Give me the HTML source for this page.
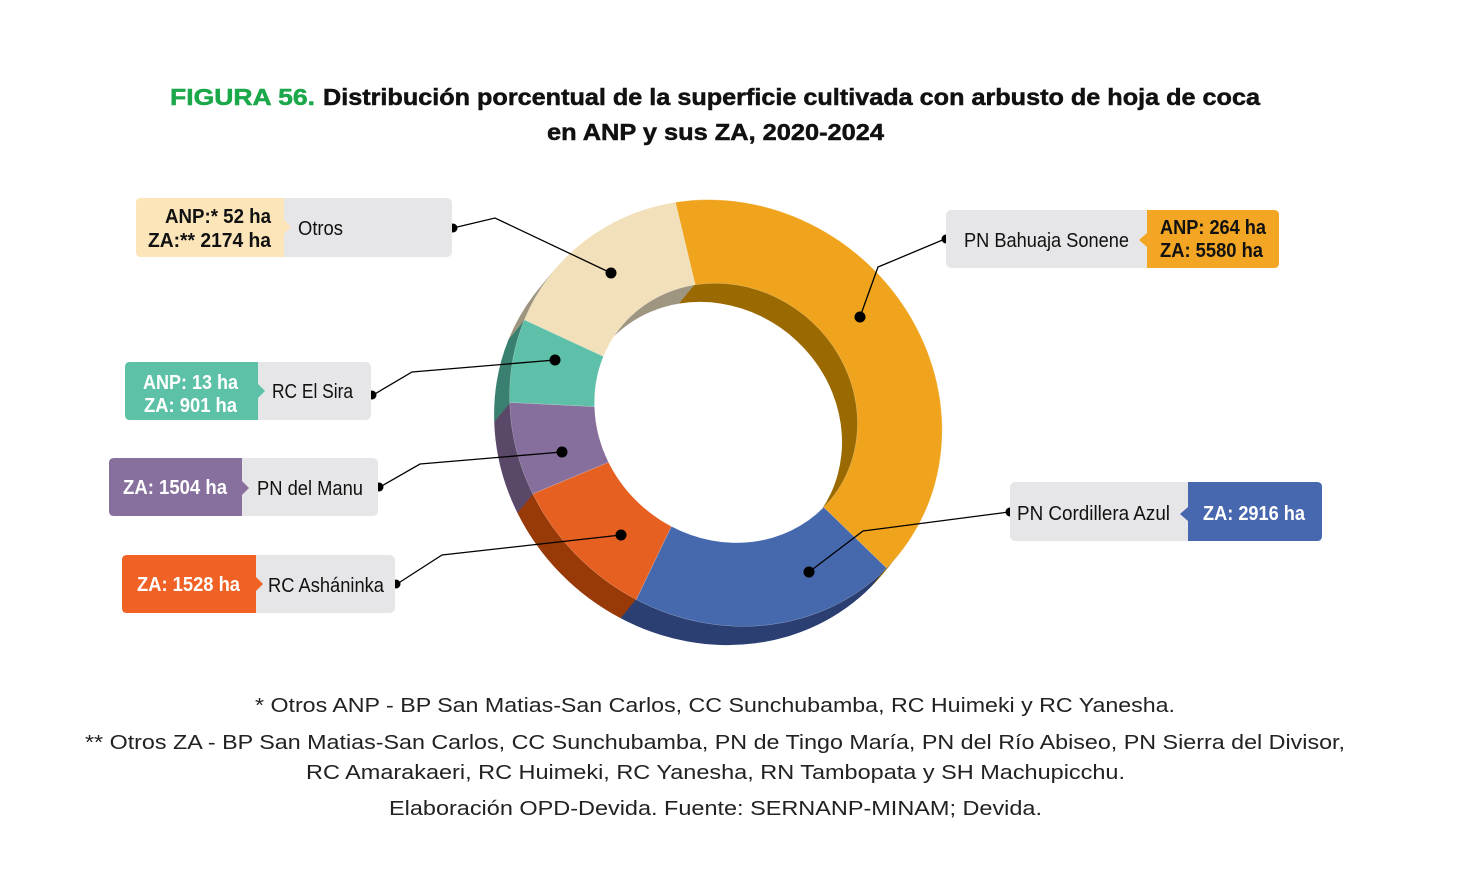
<!DOCTYPE html>
<html><head><meta charset="utf-8"><style>
html,body{margin:0;padding:0;background:#fff;}
svg{display:block;}
.lb{font-family:"Liberation Sans Narrow","Liberation Sans",sans-serif;font-size:20px;}
.b{font-weight:bold;}
</style></head><body>
<svg width="1470" height="870" viewBox="0 0 1470 870" xmlns="http://www.w3.org/2000/svg">
<rect width="1470" height="870" fill="#fff"/>
<!-- Title -->
<text x="170" y="105" font-family="Liberation Sans, sans-serif" font-weight="bold" font-size="23" fill="#1ba84a" stroke="#1ba84a" stroke-width="0.5" textLength="145" lengthAdjust="spacingAndGlyphs">FIGURA 56.</text>
<text x="323" y="105" font-family="Liberation Sans, sans-serif" font-weight="bold" font-size="23" fill="#111" stroke="#111" stroke-width="0.5" textLength="937" lengthAdjust="spacingAndGlyphs">Distribución porcentual de la superficie cultivada con arbusto de hoja de coca</text>
<text x="547" y="140" font-family="Liberation Sans, sans-serif" font-weight="bold" font-size="23" fill="#111" stroke="#111" stroke-width="0.5" textLength="337" lengthAdjust="spacingAndGlyphs">en ANP y sus ZA, 2020-2024</text>

<!-- Donut dark extrusion -->
<defs>
<g id="dk">
<path fill="#9a6a00" d="M675.4,202.2 A223.5,206.2 40 0 1 886.6,568.1 L823.7,507.3 A135.9,125.4 40 0 0 695.2,284.8 Z"/>
<path fill="#2b3f72" d="M886.6,568.1 A223.5,206.2 40 0 1 636.2,599.6 L671.4,526.4 A135.9,125.4 40 0 0 823.7,507.3 Z"/>
<path fill="#983a08" d="M636.2,599.6 A223.5,206.2 40 0 1 532.7,493.8 L608.5,462.2 A135.9,125.4 40 0 0 671.4,526.4 Z"/>
<path fill="#5a4868" d="M532.7,493.8 A223.5,206.2 40 0 1 509.7,402.4 L594.5,406.6 A135.9,125.4 40 0 0 608.5,462.2 Z"/>
<path fill="#3a8070" d="M509.7,402.4 A223.5,206.2 40 0 1 524.4,319.8 L603.4,356.4 A135.9,125.4 40 0 0 594.5,406.6 Z"/>
<path fill="#9e9680" d="M524.4,319.8 A223.5,206.2 40 0 1 675.4,202.2 L695.2,284.8 A135.9,125.4 40 0 0 603.4,356.4 Z"/>
</g>
</defs>
<use href="#dk" transform="translate(-15.5,18.7)"/>
<use href="#dk" transform="translate(-14.2,17.1)"/>
<use href="#dk" transform="translate(-12.9,15.6)"/>
<use href="#dk" transform="translate(-11.6,14)"/>
<use href="#dk" transform="translate(-10.3,12.5)"/>
<use href="#dk" transform="translate(-9,10.9)"/>
<use href="#dk" transform="translate(-7.75,9.35)"/>
<use href="#dk" transform="translate(-6.5,7.8)"/>
<use href="#dk" transform="translate(-5.2,6.2)"/>
<use href="#dk" transform="translate(-3.9,4.7)"/>
<use href="#dk" transform="translate(-2.6,3.1)"/>
<use href="#dk" transform="translate(-1.3,1.55)"/>
<!-- Top face -->
<g stroke="#ffffff" stroke-width="0.4" stroke-opacity="0.5">
<path fill="#f0a41e" d="M675.4,202.2 A223.5,206.2 40 0 1 886.6,568.1 L823.7,507.3 A135.9,125.4 40 0 0 695.2,284.8 Z"/>
<path fill="#4668ad" d="M886.6,568.1 A223.5,206.2 40 0 1 636.2,599.6 L671.4,526.4 A135.9,125.4 40 0 0 823.7,507.3 Z"/>
<path fill="#e66022" d="M636.2,599.6 A223.5,206.2 40 0 1 532.7,493.8 L608.5,462.2 A135.9,125.4 40 0 0 671.4,526.4 Z"/>
<path fill="#866f9c" d="M532.7,493.8 A223.5,206.2 40 0 1 509.7,402.4 L594.5,406.6 A135.9,125.4 40 0 0 608.5,462.2 Z"/>
<path fill="#5ec0a8" d="M509.7,402.4 A223.5,206.2 40 0 1 524.4,319.8 L603.4,356.4 A135.9,125.4 40 0 0 594.5,406.6 Z"/>
<path fill="#f1e0b9" d="M524.4,319.8 A223.5,206.2 40 0 1 675.4,202.2 L695.2,284.8 A135.9,125.4 40 0 0 603.4,356.4 Z"/>
</g>

<!-- Connectors -->
<g fill="none" stroke="#000" stroke-width="1.3">
<polyline points="453,228 495,218 611,273"/>
<polyline points="373,395 412,372 555,360"/>
<polyline points="380,487 420,464 562,452"/>
<polyline points="397,584 442,555 621,535"/>
<polyline points="945,239 878,267 860,317"/>
<polyline points="1009,512 863,531 809,572"/>
</g>
<g fill="#000">
<circle cx="611" cy="273" r="5.5"/>
<circle cx="555" cy="360" r="5.5"/>
<circle cx="562" cy="452" r="5.5"/>
<circle cx="621" cy="535" r="5.5"/>
<circle cx="860" cy="317" r="5.5"/>
<circle cx="809" cy="572" r="5.5"/>
<circle cx="453" cy="228" r="4.5"/>
<circle cx="372" cy="395" r="4.5"/>
<circle cx="379" cy="487" r="4.5"/>
<circle cx="396" cy="584" r="4.5"/>
<circle cx="946" cy="239" r="4.5"/>
<circle cx="1010" cy="512" r="4.5"/>
</g>

<!-- Otros box -->
<rect x="136" y="198" width="316" height="59" rx="5" fill="#e6e6e8"/>
<path fill="#fbe5b9" d="M141,198 H284 V257 H141 Q136,257 136,252 V203 Q136,198 141,198 Z"/>
<path fill="#fbe5b9" d="M284,220 L291,227 L284,234 Z"/>
<text class="lb b" x="165" y="223" textLength="106" lengthAdjust="spacingAndGlyphs" fill="#111">ANP:* 52 ha</text>
<text class="lb b" x="148" y="247" textLength="123" lengthAdjust="spacingAndGlyphs" fill="#111">ZA:** 2174 ha</text>
<text class="lb" x="298" y="235" textLength="45" lengthAdjust="spacingAndGlyphs" fill="#111">Otros</text>

<!-- RC El Sira -->
<rect x="125" y="362" width="246" height="58" rx="5" fill="#e6e6e8"/>
<path fill="#5dc1a8" d="M130,362 H258 V420 H130 Q125,420 125,415 V367 Q125,362 130,362 Z"/>
<path fill="#5dc1a8" d="M258,384 L265,391 L258,398 Z"/>
<text class="lb b" x="143" y="389" textLength="95" lengthAdjust="spacingAndGlyphs" fill="#fff">ANP: 13 ha</text>
<text class="lb b" x="144" y="412" textLength="93" lengthAdjust="spacingAndGlyphs" fill="#fff">ZA: 901 ha</text>
<text class="lb" x="272" y="398" textLength="81" lengthAdjust="spacingAndGlyphs" fill="#111">RC El Sira</text>

<!-- PN del Manu -->
<rect x="109" y="458" width="269" height="58" rx="5" fill="#e6e6e8"/>
<path fill="#88709e" d="M114,458 H242 V516 H114 Q109,516 109,511 V463 Q109,458 114,458 Z"/>
<path fill="#88709e" d="M242,481 L249,488 L242,495 Z"/>
<text class="lb b" x="123" y="494" textLength="104" lengthAdjust="spacingAndGlyphs" fill="#fff">ZA: 1504 ha</text>
<text class="lb" x="257" y="495" textLength="106" lengthAdjust="spacingAndGlyphs" fill="#111">PN del Manu</text>

<!-- RC Ashaninka -->
<rect x="122" y="555" width="273" height="58" rx="5" fill="#e6e6e8"/>
<path fill="#ef6124" d="M127,555 H256 V613 H127 Q122,613 122,608 V560 Q122,555 127,555 Z"/>
<path fill="#ef6124" d="M256,577 L263,584 L256,591 Z"/>
<text class="lb b" x="137" y="591" textLength="103" lengthAdjust="spacingAndGlyphs" fill="#fff">ZA: 1528 ha</text>
<text class="lb" x="268" y="592" textLength="116" lengthAdjust="spacingAndGlyphs" fill="#111">RC Asháninka</text>

<!-- PN Bahuaja Sonene -->
<rect x="946" y="210" width="333" height="58" rx="5" fill="#e6e6e8"/>
<path fill="#f3a624" d="M1147,210 H1274 Q1279,210 1279,215 V263 Q1279,268 1274,268 H1147 Z"/>
<path fill="#f3a624" d="M1147,233 L1139,240 L1147,247 Z"/>
<text class="lb" x="964" y="247" textLength="165" lengthAdjust="spacingAndGlyphs" fill="#111">PN Bahuaja Sonene</text>
<text class="lb b" x="1160" y="234" textLength="106" lengthAdjust="spacingAndGlyphs" fill="#111">ANP: 264 ha</text>
<text class="lb b" x="1160" y="257" textLength="103" lengthAdjust="spacingAndGlyphs" fill="#111">ZA: 5580 ha</text>

<!-- PN Cordillera Azul -->
<rect x="1010" y="482" width="312" height="59" rx="5" fill="#e6e6e8"/>
<path fill="#4767ae" d="M1188,482 H1317 Q1322,482 1322,487 V536 Q1322,541 1317,541 H1188 Z"/>
<path fill="#4767ae" d="M1188,507 L1180,514 L1188,521 Z"/>
<text class="lb" x="1017" y="520" textLength="153" lengthAdjust="spacingAndGlyphs" fill="#111">PN Cordillera Azul</text>
<text class="lb b" x="1203" y="520" textLength="102" lengthAdjust="spacingAndGlyphs" fill="#fff">ZA: 2916 ha</text>

<!-- Footnotes -->
<g font-family="Liberation Sans, sans-serif" font-size="20" fill="#222">
<text x="255" y="712" textLength="920" lengthAdjust="spacingAndGlyphs">* Otros ANP - BP San Matias-San Carlos, CC Sunchubamba, RC Huimeki y RC Yanesha.</text>
<text x="85" y="749" textLength="1260" lengthAdjust="spacingAndGlyphs">** Otros ZA - BP San Matias-San Carlos, CC Sunchubamba, PN de Tingo María, PN del Río Abiseo, PN Sierra del Divisor,</text>
<text x="306" y="779" textLength="819" lengthAdjust="spacingAndGlyphs">RC Amarakaeri, RC Huimeki, RC Yanesha, RN Tambopata y SH Machupicchu.</text>
<text x="389" y="815" textLength="653" lengthAdjust="spacingAndGlyphs">Elaboración OPD-Devida. Fuente: SERNANP-MINAM; Devida.</text>
</g>
</svg>
</body></html>
